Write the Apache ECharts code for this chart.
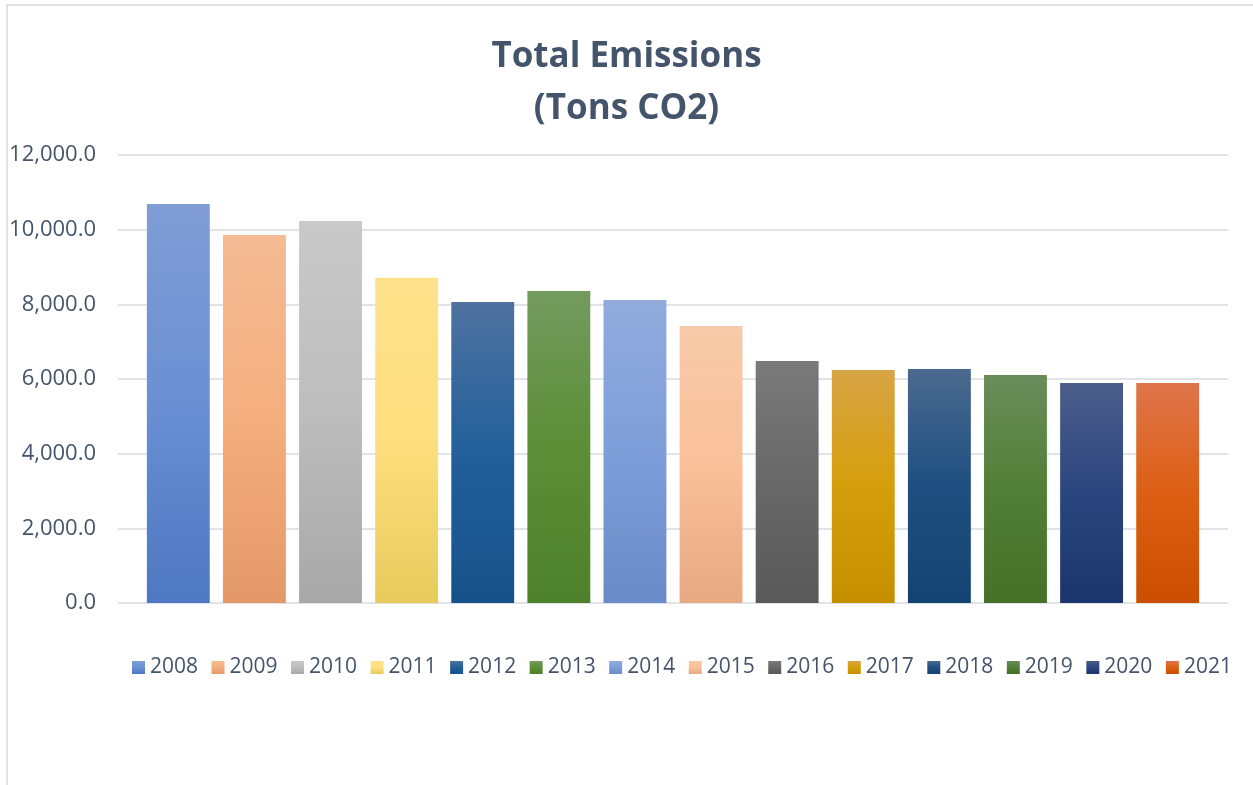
<!DOCTYPE html>
<html>
<head>
<meta charset="utf-8">
<script src="https://cdn.jsdelivr.net/npm/echarts@6/dist/echarts.min.js"></script>
<style>
  html, body { margin: 0; padding: 0; background: #ffffff; }
  #main { width: 1253px; height: 785px; }
</style>
</head>
<body>
<div id="main"></div>
<script>
// data
const years = ['2008', '2009', '2010', '2011', '2012', '2013', '2014',
  '2015', '2016', '2017', '2018', '2019', '2020', '2021'];
const emissions = [10690, 9860, 10230, 8710, 8060, 8360, 8115,
  7420, 6480, 6240, 6270, 6110, 5890, 5890];
const yTicks = [0, 2000, 4000, 6000, 8000, 10000, 12000];

// gradient colours, top -> middle -> bottom
const palette = [
  ['#809dd5', '#6a8fd3', '#4e78c2'],
  ['#f4bb94', '#f5ae7e', '#e4986a'],
  ['#c9c9c9', '#bdbdbd', '#a8a8a8'],
  ['#fde28c', '#fedf7e', '#e6cb5c'],
  ['#4f72a0', '#22609a', '#17518a'],
  ['#739b5f', '#5b8e36', '#4e812b'],
  ['#91abdd', '#7e9ed9', '#6a8bc8'],
  ['#f7caa9', '#f9c09a', '#e7a981'],
  ['#7a7a7a', '#686868', '#595959'],
  ['#d7a444', '#d59e0b', '#c68f00'],
  ['#4b6a8f', '#1e4f80', '#134471'],
  ['#6b8c5a', '#517f37', '#457027'],
  ['#4c5d8a', '#2b467e', '#1b346c'],
  ['#df754b', '#dc5f13', '#cc4e00']
];

const txt = '#44546a';
const chart = echarts.init(document.getElementById('main'));

const series = years.map(function (y, i) {
  const c = palette[i];
  return {
    name: y,
    type: 'bar',
    data: [emissions[i]],
    barGap: '21%',
    barCategoryGap: '5.2%',
    itemStyle: {
      color: new echarts.graphic.LinearGradient(0, 0, 0, 1, [
        { offset: 0, color: c[0] },
        { offset: 0.5, color: c[1] },
        { offset: 1, color: c[2] }
      ])
    }
  };
});

chart.setOption({
  backgroundColor: '#ffffff',
  animation: false,
  graphic: [{
    type: 'rect',
    shape: { x: 7, y: 5, width: 1400, height: 900 },
    style: { fill: 'none', stroke: '#d9d9d9', lineWidth: 1.5 },
    silent: true
  }],
  title: {
    text: 'Total Emissions\n(Tons CO2)',
    left: 'center',
    top: 26,
    textStyle: {
      fontFamily: 'Open Sans',
      fontWeight: 'bold',
      fontSize: 35,
      lineHeight: 52,
      color: txt
    }
  },
  legend: {
    data: years,
    bottom: 102,
    left: 127,
    icon: 'rect',
    itemWidth: 13,
    itemHeight: 13,
    itemGap: 13.5,
    textStyle: { fontFamily: 'Open Sans', fontSize: 21, color: txt }
  },
  grid: { left: 118, right: 25, top: 155, bottom: 182 },
  xAxis: {
    type: 'category',
    data: ['Total'],
    axisLine: { show: false },
    axisTick: { show: false },
    axisLabel: { show: false }
  },
  yAxis: {
    type: 'value',
    min: yTicks[0],
    max: yTicks[yTicks.length - 1],
    interval: yTicks[1] - yTicks[0],
    axisLine: { show: false },
    axisTick: { show: false },
    splitLine: { lineStyle: { color: '#e0e4e9', width: 2 } },
    axisLabel: {
      margin: 22,
      fontFamily: 'Open Sans',
      fontSize: 22,
      color: txt,
      formatter: function (v) {
        return v.toLocaleString('en-US', { minimumFractionDigits: 1, maximumFractionDigits: 1 });
      }
    }
  },
  series: series
});
</script>
</body>
</html>
